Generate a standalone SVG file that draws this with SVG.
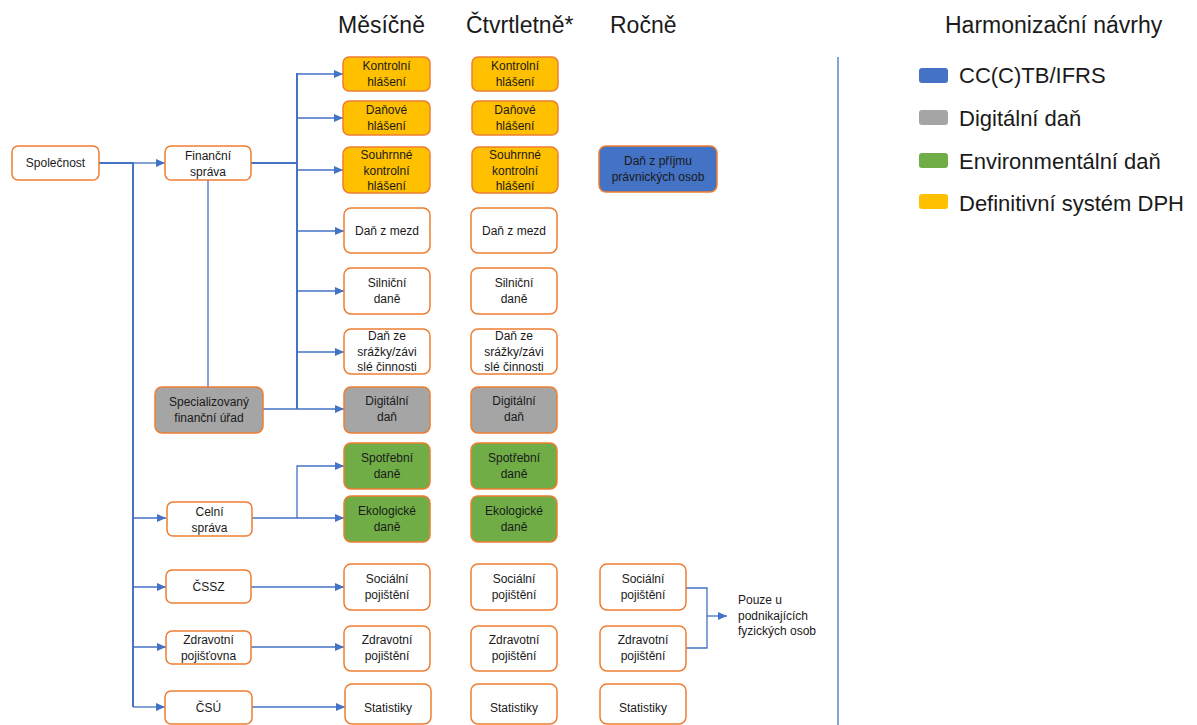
<svg xmlns="http://www.w3.org/2000/svg" width="1197" height="725" viewBox="0 0 1197 725">
<defs>
<style>
.b{fill:#fff;stroke:#ED7D31;stroke-width:1.5}
.y{fill:#FFC000;stroke:#ED7D31;stroke-width:1.5}
.g{fill:#A5A5A5;stroke:#ED7D31;stroke-width:1.5}
.gr{fill:#70AD47;stroke:#ED7D31;stroke-width:1.5}
.bl{fill:#4472C4;stroke:#ED7D31;stroke-width:1.5}
text{font-family:"Liberation Sans",Arial,sans-serif;fill:#1a1a1a}
.t{font-size:12px;text-anchor:middle}
.h{font-size:23px}
.l{font-size:22px}
.c{fill:none;stroke:#4472C4;stroke-width:1.3}
.ct{fill:none;stroke:#4472C4;stroke-width:2}
</style>
<marker id="a" markerUnits="userSpaceOnUse" markerWidth="10" markerHeight="10" refX="9" refY="5" orient="auto">
<path d="M0,1 L9,5 L0,9 Z" fill="#4472C4"/>
</marker>
</defs>
<rect width="1197" height="725" fill="#fff"/>

<g id="headings">
<text class="h" x="338" y="33">Měsíčně</text>
<text class="h" x="466" y="33">Čtvrtletně*</text>
<text class="h" x="610" y="33">Ročně</text>
<text class="h" x="945" y="33">Harmonizační návrhy</text>
</g>

<g id="legend">
<rect x="919" y="68" width="29" height="15" rx="3" fill="#4472C4"/>
<text class="l" x="959" y="83">CC(C)TB/IFRS</text>
<rect x="919" y="110" width="29" height="15" rx="3" fill="#A5A5A5"/>
<text class="l" x="959" y="126">Digitální daň</text>
<rect x="919" y="153" width="29" height="15" rx="3" fill="#70AD47"/>
<text class="l" x="959" y="169">Environmentální daň</text>
<rect x="919" y="194" width="29" height="15" rx="3" fill="#FFC000"/>
<text class="l" x="959" y="211">Definitivní systém DPH</text>
</g>

<g id="connectors">
<line x1="838" y1="57" x2="838" y2="725" class="c" stroke-width="1.5"/>
<polyline class="ct" points="99,163 133,163 133,707"/>
<line class="c" x1="133" y1="163" x2="165" y2="163" marker-end="url(#a)"/>
<line class="c" x1="133" y1="518" x2="166" y2="518" marker-end="url(#a)"/>
<line class="c" x1="133" y1="587" x2="166" y2="587" marker-end="url(#a)"/>
<line class="c" x1="133" y1="647" x2="166" y2="647" marker-end="url(#a)"/>
<line class="c" x1="133" y1="707" x2="165" y2="707" marker-end="url(#a)"/>
<line class="ct" x1="251" y1="163" x2="297" y2="163"/>
<line class="ct" x1="297" y1="73" x2="297" y2="409"/>
<line class="c" x1="297" y1="74" x2="343" y2="74" marker-end="url(#a)"/>
<line class="c" x1="297" y1="118" x2="343" y2="118" marker-end="url(#a)"/>
<line class="c" x1="297" y1="170" x2="343" y2="170" marker-end="url(#a)"/>
<line class="c" x1="297" y1="231" x2="344" y2="231" marker-end="url(#a)"/>
<line class="c" x1="297" y1="291" x2="344" y2="291" marker-end="url(#a)"/>
<line class="c" x1="297" y1="352" x2="344" y2="352" marker-end="url(#a)"/>
<line class="c" x1="208" y1="180" x2="208" y2="387"/>
<line class="c" x1="263" y1="409" x2="344" y2="409" marker-end="url(#a)"/>
<polyline class="c" points="252,518 297,518 297,466 344,466" marker-end="url(#a)"/>
<line class="c" x1="297" y1="518" x2="344" y2="518" marker-end="url(#a)"/>
<line class="c" x1="251" y1="587" x2="344" y2="587" marker-end="url(#a)"/>
<line class="c" x1="251" y1="647" x2="344" y2="647" marker-end="url(#a)"/>
<line class="c" x1="252" y1="707" x2="345" y2="707" marker-end="url(#a)"/>
<polyline class="c" points="686,588 707,588 707,648 686,648"/>
<line class="c" x1="707" y1="616" x2="727" y2="616" marker-end="url(#a)"/>
</g>

<g id="spolecnost"><rect class="b" x="12" y="146" width="87" height="34" rx="6"/><text class="t" x="55.5" y="167">Společnost</text></g>
<g id="financni-sprava"><rect class="b" x="165" y="146" width="86" height="34" rx="6"/><text class="t" x="208" y="160">Finanční</text><text class="t" x="208" y="176">správa</text></g>
<g id="specializovany"><rect class="g" x="155" y="387" width="108" height="46" rx="7"/><text class="t" x="209" y="406">Specializovaný</text><text class="t" x="209" y="422">finanční úřad</text></g>
<g id="celni-sprava"><rect class="b" x="167" y="502" width="85" height="34" rx="6"/><text class="t" x="209.5" y="516">Celní</text><text class="t" x="209.5" y="532">správa</text></g>
<g id="cssz"><rect class="b" x="166" y="570" width="85" height="33" rx="6"/><text class="t" x="208.5" y="591">ČSSZ</text></g>
<g id="zdravotni-pojistovna"><rect class="b" x="166" y="631" width="85" height="33" rx="6"/><text class="t" x="208.5" y="644">Zdravotní</text><text class="t" x="208.5" y="660">pojišťovna</text></g>
<g id="csu"><rect class="b" x="165" y="691" width="87" height="33" rx="6"/><text class="t" x="208.5" y="712">ČSÚ</text></g>

<g id="m-kontrolni"><rect class="y" x="343" y="57" width="87" height="34" rx="6"/><text class="t" x="386.5" y="70">Kontrolní</text><text class="t" x="386.5" y="86">hlášení</text></g>
<g id="q-kontrolni"><rect class="y" x="472" y="57" width="86" height="34" rx="6"/><text class="t" x="515" y="70">Kontrolní</text><text class="t" x="515" y="86">hlášení</text></g>
<g id="m-danove"><rect class="y" x="343" y="101" width="87" height="34" rx="6"/><text class="t" x="386.5" y="114">Daňové</text><text class="t" x="386.5" y="130">hlášení</text></g>
<g id="q-danove"><rect class="y" x="472" y="101" width="86" height="34" rx="6"/><text class="t" x="515" y="114">Daňové</text><text class="t" x="515" y="130">hlášení</text></g>
<g id="m-souhrnne"><rect class="y" x="343" y="147" width="87" height="46" rx="7"/><text class="t" x="386.5" y="159">Souhrnné</text><text class="t" x="386.5" y="175">kontrolní</text><text class="t" x="386.5" y="190">hlášení</text></g>
<g id="q-souhrnne"><rect class="y" x="472" y="147" width="86" height="46" rx="7"/><text class="t" x="515" y="159">Souhrnné</text><text class="t" x="515" y="175">kontrolní</text><text class="t" x="515" y="190">hlášení</text></g>
<g id="r-dan-prijmu"><rect class="bl" x="599" y="146" width="118" height="46" rx="7"/><text class="t" x="658" y="165">Daň z příjmu</text><text class="t" x="658" y="181">právnických osob</text></g>
<g id="m-mzdy"><rect class="b" x="344" y="208" width="86" height="45" rx="7"/><text class="t" x="387" y="235">Daň z mezd</text></g>
<g id="q-mzdy"><rect class="b" x="471" y="208" width="86" height="45" rx="7"/><text class="t" x="514" y="235">Daň z mezd</text></g>
<g id="m-silnicni"><rect class="b" x="344" y="268" width="86" height="46" rx="7"/><text class="t" x="387" y="287">Silniční</text><text class="t" x="387" y="303">daně</text></g>
<g id="q-silnicni"><rect class="b" x="471" y="268" width="86" height="46" rx="7"/><text class="t" x="514" y="287">Silniční</text><text class="t" x="514" y="303">daně</text></g>
<g id="m-srazky"><rect class="b" x="344" y="329" width="86" height="45" rx="7"/><text class="t" x="387" y="340">Daň ze</text><text class="t" x="387" y="356">srážky/závi</text><text class="t" x="387" y="371">slé činnosti</text></g>
<g id="q-srazky"><rect class="b" x="471" y="329" width="86" height="45" rx="7"/><text class="t" x="514" y="340">Daň ze</text><text class="t" x="514" y="356">srážky/závi</text><text class="t" x="514" y="371">slé činnosti</text></g>
<g id="m-digitalni"><rect class="g" x="344" y="387" width="86" height="46" rx="7"/><text class="t" x="387" y="405">Digitální</text><text class="t" x="387" y="421">daň</text></g>
<g id="q-digitalni"><rect class="g" x="471" y="387" width="86" height="46" rx="7"/><text class="t" x="514" y="405">Digitální</text><text class="t" x="514" y="421">daň</text></g>
<g id="m-spotrebni"><rect class="gr" x="344" y="443" width="86" height="46" rx="7"/><text class="t" x="387" y="462">Spotřební</text><text class="t" x="387" y="478">daně</text></g>
<g id="q-spotrebni"><rect class="gr" x="471" y="443" width="86" height="46" rx="7"/><text class="t" x="514" y="462">Spotřební</text><text class="t" x="514" y="478">daně</text></g>
<g id="m-ekologicke"><rect class="gr" x="344" y="496" width="86" height="46" rx="7"/><text class="t" x="387" y="515">Ekologické</text><text class="t" x="387" y="531">daně</text></g>
<g id="q-ekologicke"><rect class="gr" x="471" y="496" width="86" height="46" rx="7"/><text class="t" x="514" y="515">Ekologické</text><text class="t" x="514" y="531">daně</text></g>
<g id="m-socialni"><rect class="b" x="344" y="564" width="86" height="46" rx="7"/><text class="t" x="387" y="583">Sociální</text><text class="t" x="387" y="599">pojištění</text></g>
<g id="q-socialni"><rect class="b" x="471" y="564" width="86" height="46" rx="7"/><text class="t" x="514" y="583">Sociální</text><text class="t" x="514" y="599">pojištění</text></g>
<g id="r-socialni"><rect class="b" x="600" y="564" width="86" height="46" rx="7"/><text class="t" x="643" y="583">Sociální</text><text class="t" x="643" y="599">pojištění</text></g>
<g id="m-zdravotni"><rect class="b" x="344" y="626" width="86" height="45" rx="7"/><text class="t" x="387" y="644">Zdravotní</text><text class="t" x="387" y="660">pojištění</text></g>
<g id="q-zdravotni"><rect class="b" x="471" y="626" width="86" height="45" rx="7"/><text class="t" x="514" y="644">Zdravotní</text><text class="t" x="514" y="660">pojištění</text></g>
<g id="r-zdravotni"><rect class="b" x="600" y="626" width="86" height="45" rx="7"/><text class="t" x="643" y="644">Zdravotní</text><text class="t" x="643" y="660">pojištění</text></g>
<g id="m-statistiky"><rect class="b" x="345" y="684" width="86" height="40" rx="7"/><text class="t" x="388" y="712">Statistiky</text></g>
<g id="q-statistiky"><rect class="b" x="471" y="684" width="86" height="40" rx="7"/><text class="t" x="514" y="712">Statistiky</text></g>
<g id="r-statistiky"><rect class="b" x="600" y="684" width="86" height="40" rx="7"/><text class="t" x="643" y="712">Statistiky</text></g>

<g id="note">
<text x="738" y="604" font-size="12">Pouze u</text>
<text x="738" y="620" font-size="12">podnikajících</text>
<text x="738" y="635" font-size="12">fyzických osob</text>
</g>
</svg>
